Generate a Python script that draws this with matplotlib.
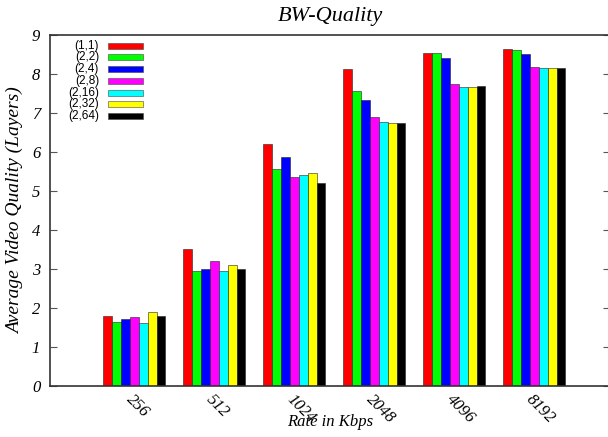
import numpy as np
import matplotlib
matplotlib.use('Agg')
import matplotlib.pyplot as plt
from matplotlib.patches import Rectangle

# data
rates = ['256', '512', '1024', '2048', '4096', '8192']
series = ['(1,1)', '(2,2)', '(2,4)', '(2,8)', '(2,16)', '(2,32)', '(2,64)']
colors = ['#ff0000', '#00ff00', '#0000ff', '#ff00ff', '#00ffff', '#ffff00', '#000000']
quality = {
    '(1,1)':  [1.80, 3.51, 6.20, 8.13, 8.55, 8.63],
    '(2,2)':  [1.63, 2.96, 5.56, 7.56, 8.55, 8.61],
    '(2,4)':  [1.71, 3.00, 5.88, 7.33, 8.42, 8.52],
    '(2,8)':  [1.76, 3.21, 5.37, 6.90, 7.74, 8.19],
    '(2,16)': [1.62, 2.96, 5.41, 6.77, 7.67, 8.16],
    '(2,32)': [1.91, 3.11, 5.45, 6.74, 7.67, 8.16],
    '(2,64)': [1.79, 3.01, 5.20, 6.75, 7.68, 8.16],
}
yticks = list(range(10))

serif = 'Liberation Serif'

fig = plt.figure(figsize=(6.08, 4.37), dpi=100)
ax = fig.add_axes([50 / 608, 51 / 437, 560 / 608, 351 / 437])

x = np.arange(len(rates))
width = 0.111
for i, (name, col) in enumerate(zip(series, colors)):
    offs = (i - 3) * width
    ax.bar(x + offs, quality[name], width, color=col, edgecolor='#222222',
           linewidth=0.4)

ax.set_xlim(-1.055, 5.945)
ax.set_ylim(0, 9)
ax.set_yticks(yticks, labels=[str(v) for v in yticks], fontfamily=serif,
              style='italic', fontsize=12)
ax.set_xticks(x, labels=rates, rotation=-45, ha='left', va='top',
              rotation_mode='anchor', fontfamily=serif, style='italic',
              fontsize=12)
ax.tick_params(axis='y', direction='in', length=5, right=True, pad=7,
               color='#555555')
ax.tick_params(axis='x', length=0, pad=4)
for s in ax.spines.values():
    s.set_linewidth(1.2)
    s.set_color('#333333')

ax.set_xlabel('Rate in Kbps', fontfamily=serif, style='italic', fontsize=12,
              labelpad=-9)
ax.set_ylabel('Average Video Quality (Layers)', fontfamily=serif,
              style='italic', fontsize=14, labelpad=6)
fig.text(330 / 608, 1 - 17 / 437, 'BW-Quality', fontfamily=serif,
         style='italic', fontsize=16, ha='center', va='center')

# legend drawn by hand: labels right-aligned, swatch to the right
for i, (name, col) in enumerate(zip(series, colors)):
    yc = 1 - (10.7 + 11.7 * i) / 351
    ax.text(0.0875, yc, name, transform=ax.transAxes, ha='right',
            va='center', fontsize=8.5, fontfamily='Liberation Sans')
    ax.add_patch(Rectangle((0.1036, yc - 3 / 351), 0.0625, 6 / 351,
                           transform=ax.transAxes, facecolor=col,
                           edgecolor='#444444', linewidth=0.4))

fig.savefig('out.png', dpi=100)
